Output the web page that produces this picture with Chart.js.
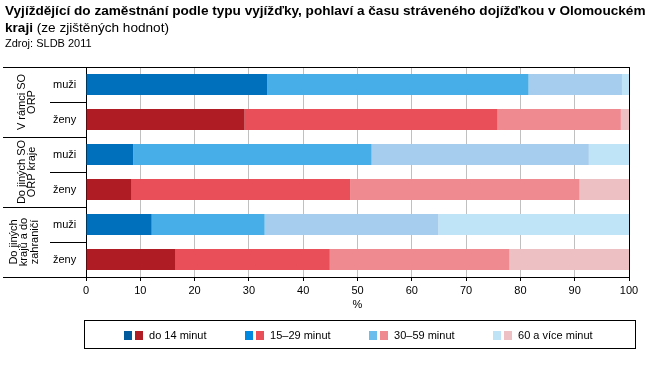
<!DOCTYPE html>
<html>
<head>
<meta charset="utf-8">
<script src="https://cdn.jsdelivr.net/npm/chart.js@4/dist/chart.umd.min.js"></script>
<style>
  body { margin: 0; background: #fff; font-family: Arial, "Liberation Sans", sans-serif; }
  #wrap { position: relative; width: 658px; height: 367px; }
  #graf { position: absolute; left: 0; top: 0; }
  #titulek { position: absolute; left: 5px; top: 2px; font-size: 13.6px; line-height: 17px; color: #000; white-space: nowrap; }
  #titulek b { font-weight: bold; }
  #zdroj { position: absolute; left: 5px; top: 37px; font-size: 11px; color: #000; }
  #legenda { position: absolute; left: 84px; top: 320px; width: 550px; height: 27px; border: 1px solid #000; }
  .pol { position: absolute; top: 9px; font-size: 11px; line-height: 11px; white-space: nowrap; }
  .pol span.sw { display: inline-block; width: 8px; height: 9px; margin-right: 3px; vertical-align: -1px; }
</style>
</head>
<body>
<div id="wrap">
  <canvas id="graf" width="658" height="367"></canvas>
  <div id="titulek"><b>Vyjíždějící do zaměstnání podle typu vyjížďky, pohlaví a času stráveného dojížďkou v Olomouckém<br>kraji</b> (ze zjištěných hodnot)</div>
  <div id="zdroj">Zdroj: SLDB 2011</div>
  <div id="legenda"></div>
</div>
<script>
// kategorie (skupiny a pohlavi)
const skupiny = [["V rámci SO", "ORP"], ["Do jiných SO", "ORP kraje"], ["Do jiných", "krajů a do", "zahraničí"]];
const pohlavi = ["muži", "ženy", "muži", "ženy", "muži", "ženy"];

// podily v % podle casu dojizdky
const do14 = [33.4, 29.2, 8.7, 8.4, 12.1, 16.5];
const od15do29 = [48.1, 46.6, 43.9, 40.3, 20.8, 28.4];
const od30do59 = [17.2, 22.7, 40.0, 42.2, 32.0, 33.1];
const nad60 = [1.3, 1.5, 7.4, 9.1, 35.1, 22.0];

const nazvyRad = ["do 14 minut", "15–29 minut", "30–59 minut", "60 a více minut"];
const xTicks = [0, 10, 20, 30, 40, 50, 60, 70, 80, 90, 100];

const barvyMuzi = ["#0070BC", "#48AEE8", "#A6CDED", "#C0E4F7"];
const barvyZeny = ["#B01C23", "#E84F58", "#F08A91", "#EDC0C3"];
const legMuzi = ["#005A9C", "#0088E0", "#6BBDEB", "#BEE3F7"];
const legZeny = ["#B01C23", "#E84F58", "#F08A91", "#EDC0C3"];

const rady = [do14, od15do29, od30do59, nad60];
const font = "Arial, 'Liberation Sans', sans-serif";

const datasets = rady.map((d, i) => ({
    label: nazvyRad[i],
    data: d,
    backgroundColor: pohlavi.map(p => p === "muži" ? barvyMuzi[i] : barvyZeny[i]),
    borderWidth: 0,
    barPercentage: 0.6,
    categoryPercentage: 1
}));

const popisky = {
    id: "popisky",
    afterDraw(chart) {
        const ctx = chart.ctx;
        const y = chart.scales.y;
        const a = chart.chartArea;
        const krok = (a.bottom - a.top) / pohlavi.length;
        ctx.save();
        ctx.strokeStyle = "#000";
        ctx.lineWidth = 1;
        // horni okraj
        ctx.beginPath();
        ctx.moveTo(a.left, a.top + 0.5);
        ctx.lineTo(a.right, a.top + 0.5);
        ctx.stroke();
        ctx.fillStyle = "#000";
        ctx.font = "11px " + font;
        ctx.textBaseline = "middle";
        pohlavi.forEach((p, i) => {
            const cy = y.getPixelForValue(i);
            ctx.fillText(p, 53, cy);
            const hrana = Math.round(cy + krok / 2) + 0.5;
            ctx.beginPath();
            ctx.moveTo(i % 2 === 0 ? 50 : 3, hrana);
            ctx.lineTo(a.left, hrana);
            ctx.stroke();
        });
        ctx.beginPath();
        ctx.moveTo(3, a.top + 0.5);
        ctx.lineTo(a.left, a.top + 0.5);
        ctx.stroke();
        // nazvy skupin otocene
        ctx.font = "11px " + font;
        ctx.textAlign = "center";
        skupiny.forEach((s, g) => {
            const cy = (y.getPixelForValue(g * 2) + y.getPixelForValue(g * 2 + 1)) / 2;
            ctx.save();
            ctx.translate(27 - (s.length - 2) * 3, cy);
            ctx.rotate(-Math.PI / 2);
            const lh = 10.5;
            s.forEach((t, k) => {
                ctx.fillText(t, 0, (k - (s.length - 1) / 2) * lh);
            });
            ctx.restore();
        });
        ctx.restore();
    }
};

new Chart("graf", {
    type: "bar",
    data: { labels: pohlavi, datasets: datasets },
    options: {
        indexAxis: "y",
        responsive: false,
        devicePixelRatio: 1,
        animation: false,
        layout: { padding: { left: 0, top: 67, right: 29, bottom: 50 } },
        plugins: { legend: { display: false }, tooltip: { enabled: false } },
        scales: {
            x: {
                stacked: true,
                min: 0,
                max: 100,
                afterBuildTicks: s => { s.ticks = xTicks.map(v => ({ value: v })); },
                afterFit: s => { s.height = 40; },
                ticks: { color: "#000", font: { size: 11, family: font }, padding: 3, maxRotation: 0 },
                grid: {
                    color: c => c.tick && c.tick.value === 100 ? "#000" : "#C0C0C0",
                    tickColor: "#000",
                    tickLength: 4
                },
                border: { color: "#000" },
                title: { display: true, text: "%", color: "#000", font: { size: 11, family: font }, padding: { top: 0, bottom: 5 } }
            },
            y: {
                stacked: true,
                afterFit: s => { s.width = 86; },
                ticks: { display: false },
                grid: { display: false },
                border: { color: "#000" }
            }
        }
    },
    plugins: [popisky]
});

// legenda
const leg = document.getElementById("legenda");
const legX = [39, 160, 284, 408];
nazvyRad.forEach((n, i) => {
    const d = document.createElement("div");
    d.className = "pol";
    d.style.left = legX[i] + "px";
    d.innerHTML = '<span class="sw" style="background:' + legMuzi[i] + '"></span>' +
        '<span class="sw" style="background:' + legZeny[i] + '"></span> ' + n;
    leg.appendChild(d);
});
</script>
</body>
</html>
